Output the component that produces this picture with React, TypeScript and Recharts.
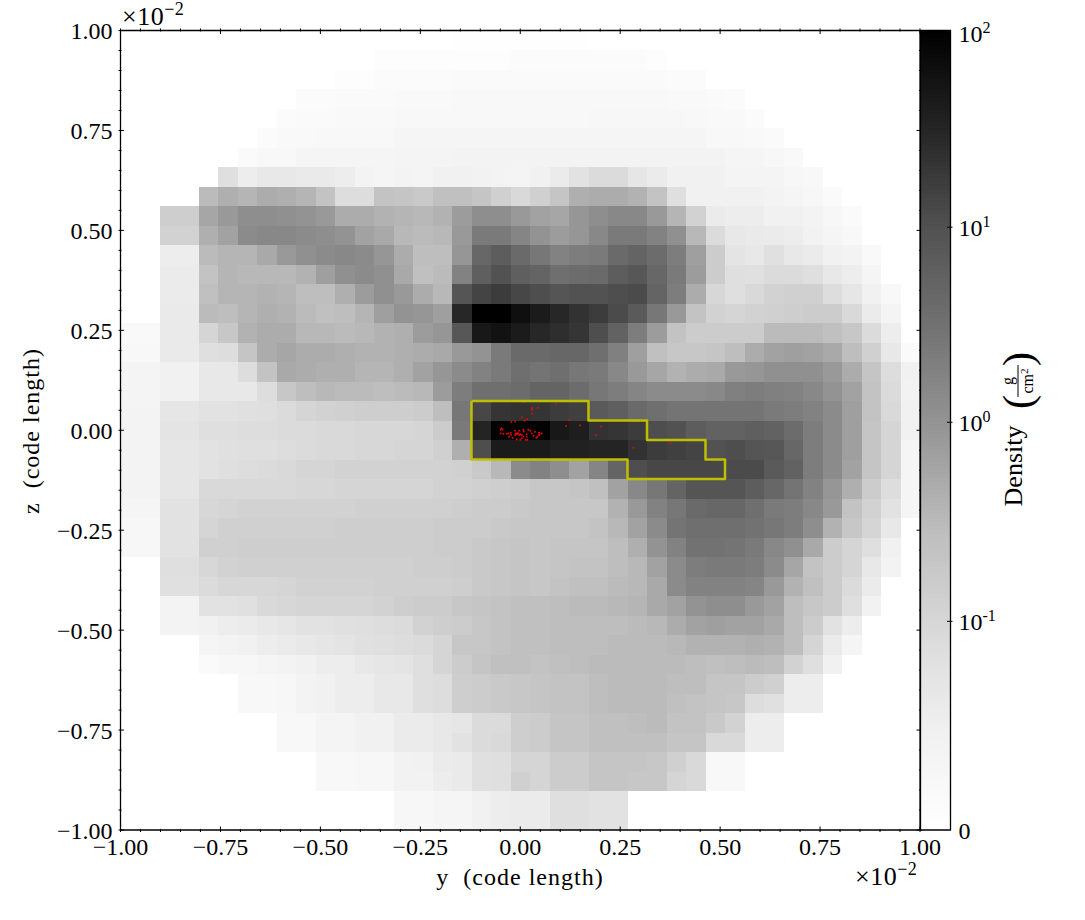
import React from "react";
import {
  ComposedChart,
  ReferenceArea,
  Scatter,
  XAxis,
  YAxis,
} from "recharts";

const FONT = '"Liberation Serif", serif';

// y and z axes, in units of 1e-2 code length
const MAJOR_TICKS = [-1, -0.75, -0.5, -0.25, 0, 0.25, 0.5, 0.75, 1];
const MINOR_TICKS = [
  -0.95, -0.9, -0.85, -0.8, -0.7, -0.65, -0.6, -0.55, -0.45, -0.4, -0.35, -0.3, -0.2, -0.15, -0.1, -0.05,
  0.05, 0.1, 0.15, 0.2, 0.3, 0.35, 0.4, 0.45, 0.55, 0.6, 0.65, 0.7, 0.8, 0.85, 0.9, 0.95,
];
const AXIS_TICKS = [...MAJOR_TICKS, ...MINOR_TICKS];

const GRID_SIZE = 41;

// colorbar: positions (percent of the bar) of each density label
const COLORBAR_TICKS = [0, 26.1, 51, 75.4, 100];
const COLORBAR_BASE = ["0", "10", "10", "10", "10"];
const COLORBAR_POWER = ["", "-1", "0", "1", "2"];

// Greys colormap stops
const GREYS = [255, 240, 217, 189, 150, 115, 82, 37, 0];

// first filled column of each row (top row first)
const ROW_START = [
  17, 13, 11, 9, 8, 7, 6, 5, 4, 2, 2, 2, 2, 2, 2, 0, 0, 0, 0, 0, 0, 0, 0, 0, 0, 0, 0, 2, 2, 2, 2, 4, 4, 6, 6, 8, 8, 10,
  10, 14, 14,
];

// density per cell, as percent position on the colorbar
const ROW_DENSITY = [
  [1, 1, 1, 1, 1, 1, 1],
  [2, 2, 2, 2, 2, 2, 2, 3, 3, 3, 3, 3, 3, 3, 2],
  [2, 2, 3, 3, 3, 3, 4, 4, 4, 4, 4, 4, 4, 4, 4, 4, 4, 3, 3],
  [3, 3, 4, 4, 4, 5, 5, 5, 6, 6, 6, 6, 6, 6, 6, 6, 6, 6, 6, 5, 5, 4, 3],
  [3, 4, 4, 5, 5, 5, 6, 6, 6, 6, 6, 6, 6, 6, 6, 6, 7, 7, 7, 7, 7, 6, 5, 5, 3],
  [3, 5, 5, 6, 6, 6, 6, 8, 8, 8, 8, 8, 8, 8, 8, 8, 8, 8, 8, 8, 8, 8, 8, 6, 6, 5, 4],
  [4, 6, 6, 8, 8, 8, 8, 8, 9, 9, 9, 10, 10, 10, 10, 10, 10, 10, 10, 10, 10, 10, 10, 10, 10, 8, 8, 7, 5],
  [22, 14, 17, 17, 16, 16, 14, 10, 8, 10, 9, 12, 12, 11, 10, 9, 12, 15, 20, 24, 24, 18, 15, 12, 12, 12, 9, 9, 9, 7, 6],
  [38, 42, 40, 43, 42, 40, 35, 23, 23, 35, 34, 32, 36, 36, 34, 29, 25, 29, 34, 42, 43, 43, 41, 35, 22, 12, 12, 12, 12, 10, 8, 7, 4],
  [30, 30, 45, 49, 53, 53, 52, 51, 49, 43, 43, 41, 40, 39, 41, 48, 53, 53, 49, 46, 45, 50, 53, 55, 55, 49, 40, 28, 15, 14, 14, 12, 12, 10, 7, 4],
  [28, 28, 42, 46, 54, 55, 55, 54, 53, 51, 46, 44, 39, 38, 39, 49, 60, 60, 56, 51, 48, 50, 55, 60, 60, 57, 52, 39, 24, 17, 16, 15, 14, 11, 8, 6],
  [14, 14, 38, 40, 40, 44, 49, 52, 54, 55, 54, 50, 43, 37, 37, 50, 67, 71, 66, 61, 57, 59, 60, 66, 68, 65, 59, 47, 31, 19, 17, 21, 17, 15, 12, 10, 5],
  [15, 15, 35, 40, 39, 39, 39, 41, 47, 52, 54, 52, 44, 36, 38, 57, 70, 75, 70, 68, 64, 65, 66, 71, 73, 67, 60, 48, 31, 22, 21, 24, 24, 22, 17, 14, 8],
  [15, 15, 36, 40, 40, 41, 40, 37, 37, 42, 48, 52, 49, 43, 39, 74, 79, 81, 78, 76, 74, 75, 75, 76, 77, 68, 59, 43, 26, 22, 25, 28, 29, 29, 23, 18, 12, 6],
  [16, 16, 38, 37, 40, 42, 41, 38, 36, 37, 40, 47, 51, 50, 47, 87, 100, 100, 95, 91, 87, 84, 81, 77, 72, 61, 49, 35, 28, 27, 28, 29, 30, 31, 31, 25, 15, 9],
  [5, 5, 16, 16, 27, 33, 41, 43, 43, 39, 39, 38, 39, 41, 42, 48, 50, 73, 92, 94, 91, 87, 85, 83, 76, 69, 59, 48, 35, 31, 31, 31, 31, 38, 38, 38, 36, 33, 24, 14],
  [6, 6, 16, 16, 22, 23, 34, 43, 45, 43, 43, 42, 41, 41, 42, 43, 44, 49, 51, 60, 66, 66, 67, 67, 64, 58, 47, 36, 33, 33, 34, 37, 43, 46, 47, 46, 44, 37, 29, 17, 4],
  [9, 9, 12, 12, 17, 17, 23, 35, 44, 43, 42, 42, 40, 40, 42, 46, 50, 54, 57, 60, 64, 62, 64, 61, 60, 55, 49, 45, 41, 43, 44, 49, 50, 52, 52, 52, 49, 43, 34, 23, 12],
  [9, 9, 12, 12, 17, 17, 17, 23, 33, 37, 39, 38, 38, 37, 38, 39, 48, 59, 64, 64, 65, 68, 68, 65, 61, 59, 56, 54, 54, 54, 55, 58, 59, 58, 57, 55, 51, 46, 35, 24, 11],
  [10, 10, 18, 18, 20, 20, 21, 22, 24, 27, 28, 29, 30, 30, 30, 31, 37, 61, 78, 83, 84, 83, 81, 80, 72, 70, 66, 64, 62, 62, 62, 62, 62, 60, 59, 57, 54, 47, 35, 25, 12],
  [10, 10, 19, 19, 22, 22, 23, 23, 24, 24, 25, 25, 26, 26, 26, 27, 31, 60, 88, 99, 99, 99, 92, 90, 84, 83, 81, 76, 75, 71, 69, 69, 70, 69, 65, 59, 54, 47, 34, 27, 12],
  [10, 10, 18, 18, 20, 21, 22, 22, 23, 24, 25, 25, 26, 26, 27, 27, 29, 42, 76, 91, 91, 91, 89, 89, 88, 88, 84, 81, 80, 79, 75, 76, 74, 73, 67, 59, 54, 47, 34, 27, 8],
  [10, 10, 18, 18, 20, 22, 23, 24, 25, 27, 27, 28, 28, 28, 28, 28, 28, 29, 32, 39, 54, 57, 53, 46, 56, 68, 76, 78, 78, 78, 78, 77, 77, 72, 69, 59, 54, 46, 34, 27, 8],
  [10, 10, 18, 18, 25, 25, 25, 25, 25, 26, 26, 27, 27, 27, 27, 27, 28, 28, 29, 30, 31, 33, 33, 34, 36, 46, 55, 61, 68, 74, 74, 74, 71, 67, 62, 57, 50, 42, 31, 23, 8],
  [8, 8, 20, 20, 26, 27, 28, 28, 28, 28, 28, 28, 29, 29, 29, 29, 29, 30, 31, 31, 32, 33, 33, 33, 33, 41, 49, 57, 61, 66, 67, 67, 64, 60, 59, 55, 49, 35, 28, 20, 8],
  [7, 7, 20, 20, 27, 29, 29, 29, 29, 29, 29, 30, 30, 30, 30, 30, 31, 31, 31, 32, 33, 33, 33, 33, 35, 39, 46, 54, 62, 64, 64, 64, 63, 61, 59, 53, 41, 33, 27, 17],
  [7, 7, 20, 20, 29, 29, 30, 30, 30, 30, 30, 30, 30, 30, 30, 30, 31, 31, 32, 33, 34, 33, 34, 34, 34, 37, 42, 51, 57, 63, 63, 62, 60, 55, 52, 44, 31, 27, 22, 12],
  [22, 22, 26, 28, 29, 29, 29, 29, 29, 29, 29, 29, 29, 30, 30, 31, 32, 33, 34, 33, 34, 35, 35, 37, 39, 46, 54, 59, 60, 60, 59, 54, 45, 35, 31, 27, 17, 10],
  [21, 21, 24, 26, 26, 26, 27, 28, 28, 28, 28, 29, 29, 29, 29, 30, 32, 33, 34, 33, 35, 36, 36, 38, 39, 44, 54, 57, 57, 57, 56, 49, 41, 36, 31, 24, 15],
  [10, 10, 20, 20, 21, 25, 26, 27, 27, 27, 27, 28, 30, 31, 31, 33, 34, 35, 36, 36, 37, 38, 38, 39, 40, 44, 46, 51, 53, 53, 49, 46, 37, 33, 31, 22, 11],
  [10, 10, 12, 14, 15, 17, 18, 20, 20, 21, 22, 23, 24, 28, 30, 31, 33, 35, 36, 36, 37, 37, 37, 37, 38, 39, 43, 46, 47, 46, 46, 44, 37, 31, 20, 14],
  [8, 10, 12, 14, 15, 17, 18, 19, 21, 22, 23, 24, 27, 33, 33, 35, 36, 36, 37, 37, 37, 38, 38, 38, 39, 41, 41, 41, 42, 41, 37, 27, 15, 8],
  [4, 7, 7, 8, 10, 12, 14, 14, 17, 18, 19, 22, 27, 31, 34, 36, 36, 35, 36, 37, 38, 38, 38, 38, 38, 37, 36, 37, 38, 37, 28, 22, 12],
  [6, 6, 7, 10, 12, 14, 14, 17, 17, 22, 23, 30, 31, 32, 33, 34, 35, 35, 37, 38, 38, 38, 37, 37, 34, 34, 31, 29, 14, 14],
  [6, 6, 7, 10, 12, 14, 14, 17, 17, 22, 23, 30, 31, 32, 33, 34, 35, 35, 37, 38, 38, 38, 36, 35, 34, 33, 23, 21, 14, 14],
  [6, 6, 9, 9, 12, 12, 15, 15, 17, 18, 24, 24, 30, 31, 34, 34, 36, 36, 37, 38, 35, 35, 32, 28, 14, 14],
  [6, 6, 9, 9, 12, 12, 15, 15, 17, 20, 24, 25, 30, 31, 34, 34, 36, 36, 36, 36, 34, 34, 25, 25, 14, 14],
  [6, 6, 7, 7, 11, 12, 15, 16, 21, 22, 27, 27, 31, 31, 34, 34, 34, 33, 29, 25, 6, 6],
  [6, 6, 7, 7, 11, 11, 14, 16, 21, 22, 29, 27, 31, 31, 34, 34, 33, 33, 27, 25, 6, 6],
  [7, 7, 8, 8, 12, 14, 15, 15, 22, 22, 20, 20],
  [7, 7, 8, 8, 12, 14, 15, 15, 22, 22, 20, 20],
];

// yellow clump outline, vertex by vertex
const CONTOUR_Y_POS = [-0.122, 0.1707, 0.1707, 0.3171, 0.3171, 0.4634, 0.4634, 0.5122, 0.5122, 0.2683, 0.2683, -0.122, -0.122];
const CONTOUR_Z_POS = [0.0732, 0.0732, 0.0244, 0.0244, -0.0244, -0.0244, -0.0732, -0.0732, -0.122, -0.122, -0.0732, -0.0732, 0.0732];

// particles
const PARTICLE_Y = [
  0.009, 0.029, 0.029, 0.044, 0.09, 0.03, 0.004, 0.017, 0.011, -0.022, -0.013, 0.115, 0.122, 0.15, 0.202, 0.19, 0.258,
  0.31, 0.283, 0.376, -0.047, -0.049, -0.044, -0.049, -0.042, -0.034, -0.03, -0.024, -0.023, -0.028, -0.019, -0.013,
  -0.002, 0.008, 0.009, 0.02, 0.025, 0.037, 0.047, 0.054, 0.048, 0.029, 0.016, 0.004, -0.005, -0.009, -0.013, 0, -0.007,
  -0.011, -0.002, 0.004, -0.009, 0, 0.014, 0.018, 0.016, 0.008, 0.033, 0.04, 0.043, 0.047,
];
const PARTICLE_Z = [
  0.071, 0.056, 0.052, 0.056, 0.066, 0.042, 0.032, 0.028, 0.024, 0.021, 0.022, 0.011, 0.025, 0.012, 0.009, -0.012, 0.024,
  0.023, -0.044, -0.033, 0.005, 0.001, 0.002, -0.008, -0.009, -0.009, -0.008, -0.006, -0.011, -0.016, -0.019, -0.001,
  -0.001, 0.001, -0.003, 0.001, -0.001, -0.004, -0.006, -0.008, -0.01, -0.008, -0.01, -0.012, -0.008, -0.01, -0.012,
  -0.01, -0.008, -0.008, -0.012, -0.02, -0.023, -0.024, -0.024, -0.024, -0.016, -0.016, -0.014, -0.019, -0.016, -0.012,
];

const contourData = CONTOUR_Y_POS.map((y, i) => ({ y, z: CONTOUR_Z_POS[i] }));
const particleData = PARTICLE_Y.map((y, i) => ({ y, z: PARTICLE_Z[i] }));
const colorbarData = COLORBAR_TICKS.map((level) => ({ x: 0.5, level }));

function greyShade(level: number) {
  const pos = (Math.min(100, Math.max(0, level)) / 100) * (GREYS.length - 1);
  const lo = Math.min(Math.floor(pos), GREYS.length - 2);
  const g = Math.round(GREYS[lo] + (GREYS[lo + 1] - GREYS[lo]) * (pos - lo));
  return `rgb(${g},${g},${g})`;
}

const cells = ROW_DENSITY.flatMap((row, r) =>
  row.map((level, i) => {
    const c = ROW_START[r] + i;
    return {
      key: `${r}-${c}`,
      x1: -1 + (2 * c) / GRID_SIZE,
      x2: -1 + (2 * (c + 1)) / GRID_SIZE,
      y1: 1 - (2 * (r + 1)) / GRID_SIZE,
      y2: 1 - (2 * r) / GRID_SIZE,
      fill: greyShade(level),
    };
  }),
);

const isMajor = (v: number) => MAJOR_TICKS.includes(v);
const tickText = (v: number) => v.toFixed(2).replace("-", "\u2212");

function BottomTick({ x, y, payload }: any) {
  const major = isMajor(payload.value);
  return (
    <g>
      <line x1={x} x2={x} y1={y} y2={y - (major ? 5.5 : 3)} stroke="#000" strokeWidth={1} />
      {major && (
        <text x={x} y={y + 23} textAnchor="middle" fontFamily={FONT} fontSize={24} fill="#000">
          {tickText(payload.value)}
        </text>
      )}
    </g>
  );
}

function TopTick({ x, y, payload }: any) {
  return <line x1={x} x2={x} y1={y} y2={y + (isMajor(payload.value) ? 5.5 : 3)} stroke="#000" strokeWidth={1} />;
}

function LeftTick({ x, y, payload }: any) {
  const major = isMajor(payload.value);
  return (
    <g>
      <line x1={x} x2={x + (major ? 5.5 : 3)} y1={y} y2={y} stroke="#000" strokeWidth={1} />
      {major && (
        <text x={x - 6} y={y + 8.5} textAnchor="end" fontFamily={FONT} fontSize={24} fill="#000">
          {tickText(payload.value)}
        </text>
      )}
    </g>
  );
}

function RightTick({ x, y, payload }: any) {
  return <line x1={x} x2={x - (isMajor(payload.value) ? 5.5 : 3)} y1={y} y2={y} stroke="#000" strokeWidth={1} />;
}

function ColorbarTick({ x, y, index }: any) {
  const power = COLORBAR_POWER[index];
  const edge = index === 0 || index === COLORBAR_TICKS.length - 1;
  return (
    <g>
      {!edge && <line x1={x} x2={x - 5.5} y1={y} y2={y} stroke="#000" strokeWidth={1} />}
      <text x={x + 6} y={y + (index === 4 ? 11 : 9)} fontFamily={FONT} fontSize={24} fill="#000">
        {COLORBAR_BASE[index]}
        {power && (
          <tspan dy={-9} fontSize={16}>
            {power}
          </tspan>
        )}
      </text>
    </g>
  );
}

const axisLine = { stroke: "#000", strokeWidth: 1.3 };
const colorbarSteps = Array.from({ length: 200 }, (_, i) => i);

export default function App() {
  return (
    <div style={{ position: "absolute", left: 0, top: 0, width: 1085, height: 920, background: "#fff" }}>
      <div style={{ position: "absolute", left: 0, top: 0 }}>
        <ComposedChart width={1085} height={920} margin={{ top: 29.5, left: 119.5, right: 164, bottom: 89 }}>
          {cells.map((cell) => (
            <ReferenceArea
              key={cell.key}
              x1={cell.x1}
              x2={cell.x2}
              y1={cell.y1}
              y2={cell.y2}
              fill={cell.fill}
              fillOpacity={1}
              stroke="none"
              ifOverflow="visible"
              shapeRendering="crispEdges"
            />
          ))}
          <XAxis
            dataKey="y"
            type="number"
            domain={[-1, 1]}
            ticks={AXIS_TICKS}
            interval={0}
            height={1}
            tickSize={0}
            tickLine={false}
            axisLine={axisLine}
            tick={BottomTick}
            allowDataOverflow
          />
          <XAxis
            xAxisId="top"
            orientation="top"
            dataKey="y"
            type="number"
            domain={[-1, 1]}
            ticks={AXIS_TICKS}
            interval={0}
            height={1}
            tickSize={0}
            tickLine={false}
            axisLine={axisLine}
            tick={TopTick}
            allowDataOverflow
          />
          <YAxis
            dataKey="z"
            type="number"
            domain={[-1, 1]}
            ticks={AXIS_TICKS}
            interval={0}
            width={1}
            tickSize={0}
            tickLine={false}
            axisLine={axisLine}
            tick={LeftTick}
            allowDataOverflow
          />
          <YAxis
            yAxisId="right"
            orientation="right"
            dataKey="z"
            type="number"
            domain={[-1, 1]}
            ticks={AXIS_TICKS}
            interval={0}
            width={1}
            tickSize={0}
            tickLine={false}
            axisLine={axisLine}
            tick={RightTick}
            allowDataOverflow
          />
          <Scatter
            data={particleData}
            dataKey="z"
            isAnimationActive={false}
            fill="#ff0000"
            shape={({ cx, cy }: any) => <rect x={cx - 0.8} y={cy - 0.8} width={1.6} height={1.6} fill="#ff0000" />}
          />
          <Scatter
            data={contourData}
            dataKey="z"
            isAnimationActive={false}
            line={{ stroke: "#bfbf00", strokeWidth: 2.5, strokeLinejoin: "round" }}
            lineType="joint"
            shape={() => <g />}
          />
          <text x={520} y={885} textAnchor="middle" fontFamily={FONT} fontSize={24} letterSpacing={1} fill="#000" xmlSpace="preserve">
            y  (code length)
          </text>
          <text
            transform="translate(39,431) rotate(-90)"
            textAnchor="middle"
            fontFamily={FONT}
            fontSize={24}
            letterSpacing={1}
            fill="#000"
            xmlSpace="preserve"
          >
            z  (code length)
          </text>
          <text x={122} y={25} fontFamily={FONT} fontSize={26} letterSpacing={0.5} fill="#000">
            ×10
            <tspan dy={-10} fontSize={18}>
              −2
            </tspan>
          </text>
          <text x={855} y={885} fontFamily={FONT} fontSize={26} letterSpacing={0.5} fill="#000">
            ×10
            <tspan dy={-10} fontSize={18}>
              −2
            </tspan>
          </text>
        </ComposedChart>
      </div>
      <div style={{ position: "absolute", left: 920, top: 0 }}>
        <ComposedChart width={165} height={920} margin={{ top: 30.5, left: 0.5, right: 133.5, bottom: 90 }}>
          {colorbarSteps.map((i) => (
            <ReferenceArea
              key={i}
              x1={0}
              x2={1}
              y1={i / 2}
              y2={(i + 1) / 2}
              fill={greyShade(i / 2 + 0.25)}
              fillOpacity={1}
              stroke="none"
              ifOverflow="visible"
              shapeRendering="crispEdges"
            />
          ))}
          <ReferenceArea x1={0} x2={1} y1={0} y2={100} fill="none" stroke="#000" strokeWidth={1.3} ifOverflow="visible" />
          <XAxis dataKey="x" type="number" domain={[0, 1]} hide />
          <YAxis
            orientation="right"
            dataKey="level"
            type="number"
            domain={[0, 100]}
            ticks={COLORBAR_TICKS}
            interval={0}
            width={1}
            tickSize={0}
            tickLine={false}
            axisLine={false}
            tick={ColorbarTick}
            allowDataOverflow
          />
          <Scatter data={colorbarData} dataKey="level" isAnimationActive={false} shape={() => <g />} />
          <text transform="translate(102,466) rotate(-90)" textAnchor="middle" fontFamily={FONT} fontSize={26} fill="#000">
            Density
          </text>
          <text transform="translate(112,402) rotate(-90)" textAnchor="middle" fontFamily={FONT} fontSize={42} fill="#000">
            (
          </text>
          <text transform="translate(112,359) rotate(-90)" textAnchor="middle" fontFamily={FONT} fontSize={42} fill="#000">
            )
          </text>
          <text transform="translate(93,381) rotate(-90)" textAnchor="middle" fontFamily={FONT} fontSize={16} fill="#000">
            g
          </text>
          <line x1={98} x2={98} y1={365} y2={397} stroke="#000" strokeWidth={1} />
          <text transform="translate(113,381) rotate(-90)" textAnchor="middle" fontFamily={FONT} fontSize={16} fill="#000">
            cm
            <tspan dy={-5} fontSize={11}>
              2
            </tspan>
          </text>
        </ComposedChart>
      </div>
    </div>
  );
}
